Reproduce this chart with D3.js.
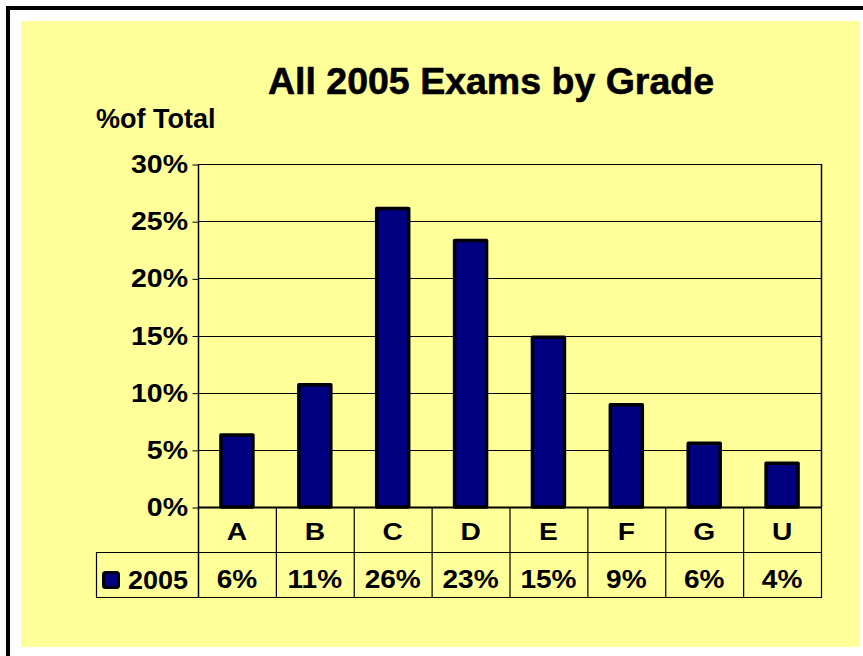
<!DOCTYPE html>
<html><head><meta charset="utf-8">
<script src="https://cdn.jsdelivr.net/npm/d3@7"></script>
<style>html,body{margin:0;padding:0;background:#fff;}svg{display:block;}</style>
</head><body>
<script>
const categories = ["A","B","C","D","E","F","G","U"];
const values2005 = [0.063, 0.107, 0.261, 0.233, 0.1485, 0.0895, 0.0557, 0.0383];
const valueLabels = ["6%","11%","26%","23%","15%","9%","6%","4%"];
const yTicks = [0,0.05,0.10,0.15,0.20,0.25,0.30];
const seriesName = "2005";
const titleText = "All 2005 Exams by Grade";
const yTitle = "%of Total";

(function(){
const W = 863, H = 656;
const svg = d3.select("body").append("svg").attr("width", W).attr("height", H);
const FONT = "'Liberation Sans', Arial, sans-serif";

// outer frame
svg.append("rect").attr("x",0).attr("y",0).attr("width",W).attr("height",H).attr("fill","#fff");
svg.append("rect").attr("x",21).attr("y",21).attr("width",839).attr("height",626).attr("fill","#FFFF99");
svg.append("rect").attr("x",8).attr("y",8).attr("width",W+20).attr("height",H+20)
  .attr("fill","none").attr("stroke","#000").attr("stroke-width",4);

const pLeft = 198, pRight = 821, pTop = 164, pBottom = 507;
const x = d3.scaleBand().domain(categories).range([pLeft, pRight]).paddingInner(0).paddingOuter(0);
const y = d3.scaleLinear().domain([0, 0.30]).range([pBottom, pTop]);

function stretchText(parent, px, py, str, size, sx, anchor) {
  const g = parent.append("g").attr("transform", `translate(${px},${py}) scale(${sx},1)`);
  return g.append("text").attr("x",0).attr("y",0).attr("text-anchor",anchor)
    .attr("font-family",FONT).attr("font-weight","bold").attr("font-size",size)
    .attr("fill","#000").text(str);
}

// gridlines
svg.append("g").selectAll("line").data(yTicks.filter(d=>d>0)).join("line")
  .attr("x1",pLeft).attr("x2",pRight)
  .attr("y1",d=>Math.round(y(d))+0.5).attr("y2",d=>Math.round(y(d))+0.5)
  .attr("stroke","#000").attr("stroke-width",1);

// plot right border
svg.append("line").attr("x1",pRight+0.5).attr("x2",pRight+0.5).attr("y1",pTop).attr("y2",pBottom)
  .attr("stroke","#000").attr("stroke-width",1.5);

// y axis
const yAxis = d3.axisLeft(y).tickValues(yTicks).tickSize(6).tickFormat("");
const ya = svg.append("g").attr("transform",`translate(${pLeft+0.5},0.5)`).call(yAxis);
ya.select(".domain").remove();
ya.selectAll(".tick line").attr("stroke","#000").attr("stroke-width",1);
svg.append("line").attr("x1",pLeft+0.5).attr("x2",pLeft+0.5).attr("y1",pTop).attr("y2",597)
  .attr("stroke","#000").attr("stroke-width",1.5);

// tick labels
const tl = svg.append("g");
yTicks.forEach(t => {
  stretchText(tl, 188, y(t)+9, d3.format(".0%")(t), 25, 1.14, "end");
});

// bars
const bw = 32;
svg.append("g").selectAll("rect").data(values2005).join("rect")
  .attr("x",(d,i)=>x(categories[i]) + x.bandwidth()/2 - bw/2)
  .attr("y",d=>y(d))
  .attr("width",bw)
  .attr("height",d=>y(0)-y(d))
  .attr("fill","#000080").attr("stroke","#000").attr("stroke-width",3.5)
  .attr("stroke-linejoin","round");

// baseline
svg.append("line").attr("x1",pLeft).attr("x2",pRight+1).attr("y1",pBottom+0.5).attr("y2",pBottom+0.5)
  .attr("stroke","#000").attr("stroke-width",2);

// data table
const tb = svg.append("g");
const rowMid = 552, rowBot = 597, legLeft = 96;
tb.append("line").attr("x1",legLeft).attr("x2",pRight+1).attr("y1",rowMid+0.5).attr("y2",rowMid+0.5).attr("stroke","#000").attr("stroke-width",1.2);
tb.append("line").attr("x1",legLeft).attr("x2",pRight+1).attr("y1",rowBot+0.5).attr("y2",rowBot+0.5).attr("stroke","#000").attr("stroke-width",1.2);
tb.append("line").attr("x1",legLeft+0.5).attr("x2",legLeft+0.5).attr("y1",rowMid).attr("y2",rowBot+1).attr("stroke","#000").attr("stroke-width",1.2);
categories.forEach((c,i) => {
  const xr = x(c) + x.bandwidth();
  tb.append("line").attr("x1",xr+0.5).attr("x2",xr+0.5).attr("y1",pBottom).attr("y2",rowBot+1)
    .attr("stroke","#000").attr("stroke-width",1.2);
  stretchText(tb, x(c)+x.bandwidth()/2, 540, c, 23.5, 1.2, "middle");
  stretchText(tb, x(c)+x.bandwidth()/2, 588, valueLabels[i], 25.5, 1.1, "middle");
});

// legend key
tb.append("rect").attr("x",103.5).attr("y",572.5).attr("width",15).attr("height",15).attr("rx",2)
  .attr("fill","#000080").attr("stroke","#000").attr("stroke-width",3);
stretchText(tb, 128, 589, seriesName, 26.5, 1.02, "start");

// titles
svg.append("text").attr("x",491).attr("y",94).attr("text-anchor","middle")
  .attr("font-family",FONT).attr("font-weight","bold").attr("font-size",37.5).attr("fill","#000")
  .attr("stroke","#000").attr("stroke-width",0.6)
  .text(titleText);
svg.append("text").attr("x",96).attr("y",128).attr("text-anchor","start")
  .attr("font-family",FONT).attr("font-weight","bold").attr("font-size",27).attr("fill","#000")
  .text(yTitle);
})();
</script>
</body></html>
